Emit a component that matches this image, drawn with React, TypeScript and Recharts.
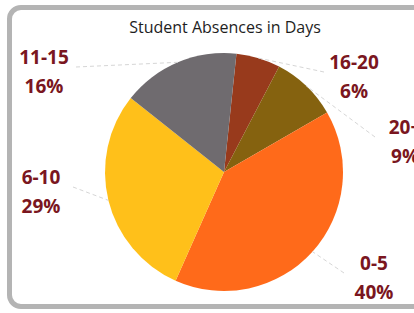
import { PieChart, Pie, Cell } from "recharts";

// slices, clockwise from just right of 12 o'clock
const categories = ["16-20", "20+", "0-5", "6-10", "11-15"];
const shares = [6, 9, 40, 29, 16];
const sliceColors = ["#983a1c", "#85620f", "#ff6a1a", "#ffc01a", "#6f6b6f"];

const TITLE = "Student Absences in Days";

// label block offsets from the pie centre (text centres)
const LABEL_POS: Record<string, { dx: number; dy: number }> = {
  "16-20": { dx: 130, dy: -110 },
  "20+": { dx: 181, dy: -45 },
  "0-5": { dx: 150, dy: 91 },
  "6-10": { dx: -183, dy: 5 },
  "11-15": { dx: -180, dy: -115 },
};

const data = categories.map((name, i) => ({ name, value: shares[i] }));

const RAD = Math.PI / 180;

function SliceLabel(props: any) {
  const { cx, cy, midAngle, outerRadius, name, value } = props;
  const pos = LABEL_POS[name];
  if (!pos) return null;
  const lx = cx + pos.dx;
  const ly = cy + pos.dy;
  const ex = cx + outerRadius * Math.cos(-midAngle * RAD);
  const ey = cy + outerRadius * Math.sin(-midAngle * RAD);
  const sx = pos.dx < 0 ? lx + 32 : lx - 30;
  const sy = ly + 10;
  return (
    <g>
      <line x1={sx} y1={sy} x2={ex} y2={ey} stroke="#d6d6d6" strokeWidth={1} strokeDasharray="4 3" />
      <text
        x={lx}
        y={ly}
        textAnchor="middle"
        dominantBaseline="central"
        fontFamily="'Open Sans', sans-serif"
        fontWeight={700}
        fontSize={19}
        fill="#7a1620"
      >
        {name}
      </text>
      <text
        x={lx}
        y={ly + 29}
        textAnchor="middle"
        dominantBaseline="central"
        fontFamily="'Open Sans', sans-serif"
        fontWeight={700}
        fontSize={19}
        fill="#7a1620"
      >
        {value}%
      </text>
    </g>
  );
}

export default function App() {
  return (
    <div
      style={{
        position: "absolute",
        left: 0,
        top: 0,
        width: 414,
        height: 313,
        overflow: "hidden",
        background: "#fff",
      }}
    >
      <div
        style={{
          position: "absolute",
          left: 7,
          top: 5,
          width: 440,
          height: 294,
          border: "5px solid #b4b4b4",
          borderRadius: 14,
        }}
      />
      <div
        style={{
          position: "absolute",
          left: 0,
          top: 17,
          width: 450,
          textAlign: "center",
          fontFamily: "'Open Sans', sans-serif",
          fontSize: 16,
          lineHeight: "20px",
          color: "#1e1e1e",
        }}
      >
        {TITLE}
      </div>
      <div style={{ position: "absolute", left: 0, top: 0 }}>
        <PieChart width={460} height={313} margin={{ top: 0, right: 0, bottom: 0, left: 0 }}>
          <Pie
            data={data}
            dataKey="value"
            nameKey="name"
            cx={224}
            cy={172}
            outerRadius={119}
            startAngle={84}
            endAngle={-276}
            stroke="none"
            labelLine={false}
            label={SliceLabel}
            isAnimationActive={false}
          >
            {data.map((d, i) => (
              <Cell key={d.name} fill={sliceColors[i]} />
            ))}
          </Pie>
        </PieChart>
      </div>
    </div>
  );
}
